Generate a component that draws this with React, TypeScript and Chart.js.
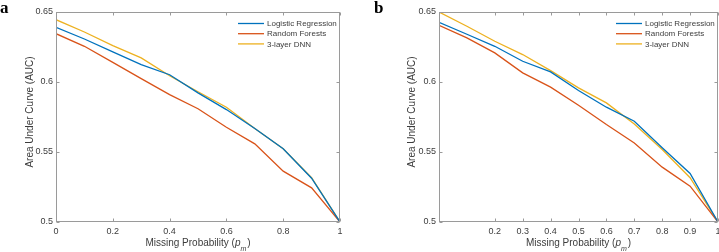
import React, { useEffect, useRef } from "react";
import { Chart, registerables } from "chart.js";

Chart.register(...registerables);

// ---- data ----
const xValues = [0, 0.1, 0.2, 0.3, 0.4, 0.5, 0.6, 0.7, 0.8, 0.9, 1];
const seriesNames = ["Logistic Regression", "Random Forests", "3-layer DNN"];
const seriesColors = ["#0072BD", "#D95319", "#EDB120"];

const logisticA = [0.639, 0.6307, 0.6215, 0.6124, 0.6052, 0.5922, 0.5803, 0.5668, 0.5523, 0.5313, 0.5];
const forestsA = [0.6345, 0.6255, 0.614, 0.6024, 0.591, 0.5809, 0.5677, 0.5558, 0.5363, 0.5244, 0.5];
const dnnA = [0.6445, 0.6357, 0.626, 0.6172, 0.6045, 0.593, 0.582, 0.5668, 0.5523, 0.5316, 0.5];

const logisticB = [0.6426, 0.6341, 0.6255, 0.6148, 0.6072, 0.5939, 0.582, 0.572, 0.553, 0.5347, 0.5];
const forestsB = [0.6405, 0.6315, 0.6208, 0.6065, 0.5963, 0.5834, 0.5696, 0.5565, 0.5392, 0.5256, 0.5];
const dnnB = [0.65, 0.6398, 0.6291, 0.6196, 0.6081, 0.5958, 0.5851, 0.57, 0.5518, 0.5316, 0.5];

const yTicks = [0.5, 0.55, 0.6, 0.65];
const xTicksA = [0, 0.2, 0.4, 0.6, 0.8, 1];
const xTicksB = [0.2, 0.3, 0.4, 0.5, 0.6, 0.7, 0.8, 0.9, 1];

const yTitle = "Area Under Curve (AUC)";
const xTitleMain = "Missing Probability (";
const xTitleVar = "p";
const xTitleSub = "m";
const xTitleEnd = ")";

const FONT = '"Liberation Sans", Arial, Helvetica, sans-serif';
const TEXT = "#3c3c3c";
const AXIS = "#9a9a9a";

type PanelCfg = {
  id: string;
  label: string;
  series: number[][];
  xTicks: number[];
  canvasLeft: number;
  canvasWidth: number;
  yAxisWidth: number;
  rightPad: number;
  yTitleX: number;
  labelX: number;
  labelY: number;
};

const panels: PanelCfg[] = [
  {
    id: "a",
    label: "a",
    series: [logisticA, forestsA, dnnA],
    xTicks: xTicksA,
    canvasLeft: 0,
    canvasWidth: 360,
    yAxisWidth: 56,
    rightPad: 20,
    yTitleX: 30,
    labelX: 0,
    labelY: 12.5,
  },
  {
    id: "b",
    label: "b",
    series: [logisticB, forestsB, dnnB],
    xTicks: xTicksB,
    canvasLeft: 360,
    canvasWidth: 380,
    yAxisWidth: 79,
    rightPad: 22,
    yTitleX: 52,
    labelX: 14,
    labelY: 13,
  },
];

function makeFramePlugin(cfg: PanelCfg) {
  return {
    id: "frame_" + cfg.id,
    afterDraw(chart: any) {
      const ctx = chart.ctx as CanvasRenderingContext2D;
      const { left, right, top, bottom } = chart.chartArea;
      const xs = chart.scales.x;
      const ys = chart.scales.y;
      ctx.save();
      // box
      ctx.strokeStyle = AXIS;
      ctx.lineWidth = 1;
      const L = Math.round(left) + 0.5;
      const R = Math.round(right) - 0.5;
      const T = Math.round(top) + 0.5;
      const B = Math.round(bottom) - 0.5;
      ctx.strokeRect(L, T, R - L, B - T);
      // inward ticks
      const tl = 3;
      ctx.beginPath();
      xs.ticks.forEach((t: any) => {
        const px = Math.round(xs.getPixelForValue(t.value)) + 0.5;
        ctx.moveTo(px, B);
        ctx.lineTo(px, B - tl);
        ctx.moveTo(px, T);
        ctx.lineTo(px, T + tl);
      });
      ys.ticks.forEach((t: any) => {
        const py = Math.round(ys.getPixelForValue(t.value)) + 0.5;
        ctx.moveTo(L, py);
        ctx.lineTo(L + tl, py);
        ctx.moveTo(R, py);
        ctx.lineTo(R - tl, py);
      });
      ctx.stroke();

      // legend
      ctx.font = `8px ${FONT}`;
      ctx.textBaseline = "middle";
      ctx.textAlign = "left";
      chart.data.datasets.forEach((ds: any, i: number) => {
        const y = top + 11.5 + i * 10.2;
        ctx.strokeStyle = ds.borderColor;
        ctx.lineWidth = 1.3;
        ctx.beginPath();
        ctx.moveTo(right - 102, y);
        ctx.lineTo(right - 76, y);
        ctx.stroke();
        ctx.fillStyle = TEXT;
        ctx.fillText(ds.label, right - 73, y + 0.5);
      });

      // y title
      ctx.fillStyle = TEXT;
      ctx.font = `10px ${FONT}`;
      ctx.save();
      ctx.translate(cfg.yTitleX, 112);
      ctx.rotate(-Math.PI / 2);
      ctx.textAlign = "center";
      ctx.textBaseline = "middle";
      ctx.fillText(yTitle, 0, 0);
      ctx.restore();

      // x title with italic subscript
      const baseY = 246;
      const regFont = `10px ${FONT}`;
      const itFont = `italic 10px ${FONT}`;
      const subFont = `italic 7px ${FONT}`;
      ctx.textBaseline = "alphabetic";
      ctx.textAlign = "left";
      ctx.font = regFont;
      const w1 = ctx.measureText(xTitleMain).width;
      const w4 = ctx.measureText(xTitleEnd).width;
      ctx.font = itFont;
      const w2 = ctx.measureText(xTitleVar).width;
      ctx.font = subFont;
      const w3 = ctx.measureText(xTitleSub).width;
      const total = w1 + w2 + w3 + w4 + 1;
      let x = (left + right) / 2 - total / 2;
      ctx.font = regFont;
      ctx.fillText(xTitleMain, x, baseY);
      x += w1;
      ctx.font = itFont;
      ctx.fillText(xTitleVar, x, baseY);
      x += w2;
      ctx.font = subFont;
      ctx.fillText(xTitleSub, x, baseY + 4.5);
      x += w3 + 1;
      ctx.font = regFont;
      ctx.fillText(xTitleEnd, x, baseY);

      // panel label
      ctx.font = `bold 17px "Liberation Serif", "Times New Roman", serif`;
      ctx.fillStyle = "#000";
      ctx.fillText(cfg.label, cfg.labelX, cfg.labelY);
      ctx.restore();
    },
  };
}

function Panel({ cfg }: { cfg: PanelCfg }) {
  const ref = useRef<HTMLCanvasElement | null>(null);
  useEffect(() => {
    if (!ref.current) return;
    const chart = new Chart(ref.current, {
      type: "line",
      data: {
        datasets: seriesNames.map((name, i) => ({
          label: name,
          data: xValues.map((x, j) => ({ x, y: cfg.series[i][j] })),
          borderColor: seriesColors[i],
          backgroundColor: seriesColors[i],
          borderWidth: 1.3,
          pointRadius: 0,
          tension: 0,
          fill: false,
        })),
      },
      options: {
        responsive: false,
        animation: false,
        devicePixelRatio: 1,
        layout: { padding: { left: 0, right: cfg.rightPad, top: 12, bottom: 0 } },
        plugins: {
          legend: { display: false },
          tooltip: { enabled: false },
          title: { display: false },
        },
        scales: {
          x: {
            type: "linear",
            min: 0,
            max: 1,
            grid: { display: false, drawTicks: false },
            border: { display: false },
            ticks: {
              font: { family: FONT, size: 9 },
              color: TEXT,
              padding: 4,
              maxRotation: 0,
              autoSkip: false,
              callback: (v: any) => String(v),
            },
            afterBuildTicks: (s: any) => {
              s.ticks = cfg.xTicks.map((v) => ({ value: v }));
            },
            afterFit: (s: any) => {
              s.height = 30;
            },
          },
          y: {
            type: "linear",
            min: 0.5,
            max: 0.65,
            grid: { display: false, drawTicks: false },
            border: { display: false },
            ticks: {
              font: { family: FONT, size: 9 },
              color: TEXT,
              padding: 3,
              autoSkip: false,
              callback: (v: any) => String(v),
            },
            afterBuildTicks: (s: any) => {
              s.ticks = yTicks.map((v) => ({ value: v }));
            },
            afterFit: (s: any) => {
              s.width = cfg.yAxisWidth;
            },
          },
        },
      } as any,
      plugins: [makeFramePlugin(cfg)],
    });
    return () => chart.destroy();
  }, [cfg]);
  return (
    <canvas
      ref={ref}
      width={cfg.canvasWidth}
      height={252}
      style={{ position: "absolute", left: cfg.canvasLeft, top: 0, width: cfg.canvasWidth, height: 252 }}
    />
  );
}

export default function App() {
  return (
    <div
      style={{
        position: "fixed",
        left: 0,
        top: 0,
        width: 719,
        height: 252,
        overflow: "hidden",
        background: "#fff",
      }}
    >
      {panels.map((p) => (
        <Panel key={p.id} cfg={p} />
      ))}
    </div>
  );
}
